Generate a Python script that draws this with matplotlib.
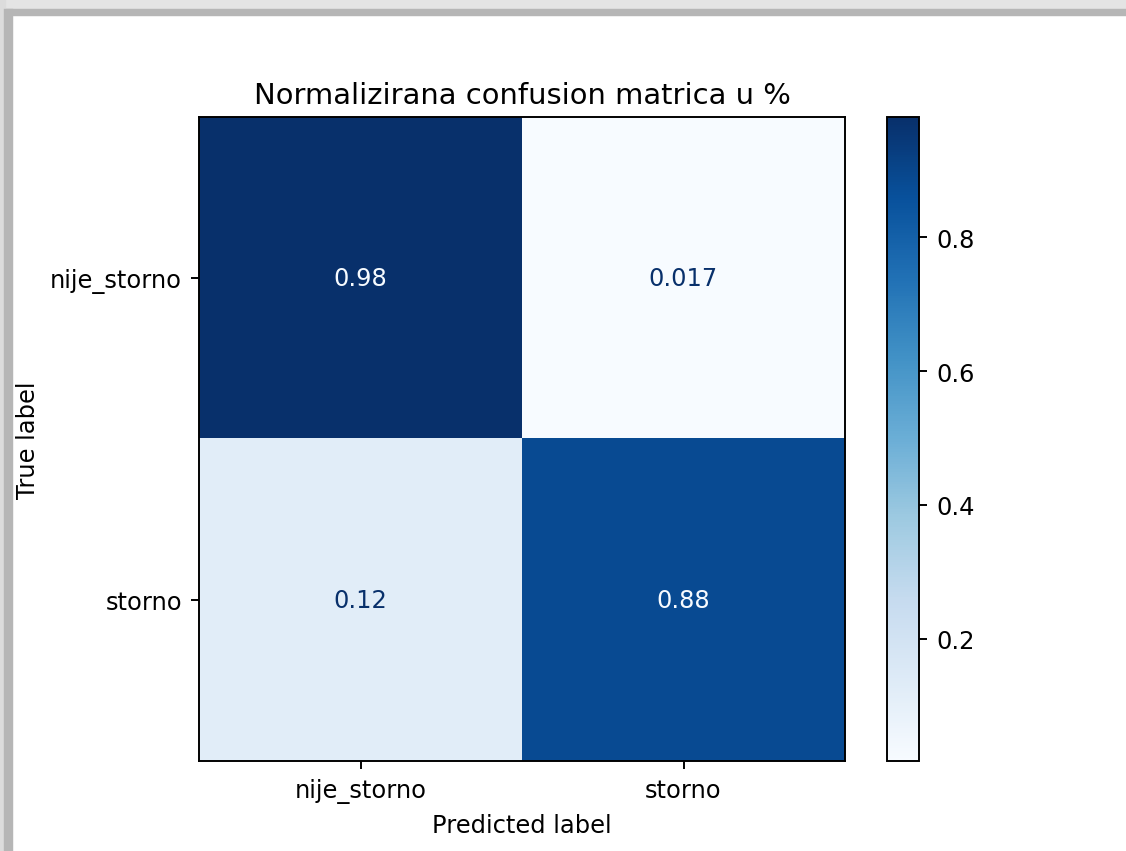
import matplotlib
matplotlib.use("Agg")
import matplotlib.pyplot as plt
import numpy as np
from matplotlib.patches import Rectangle

classes = ["nije_storno", "storno"]
row_nije = [0.98, 0.017]
row_storno = [0.12, 0.88]
cbar_ticks = [0.2, 0.4, 0.6, 0.8]

cm = np.array([row_nije, row_storno])

W, H = 1126, 852
dpi = 174
fig = plt.figure(figsize=(W / dpi, H / dpi), dpi=dpi)

# screenshot frame (grey band at top and left)
fig.patches.append(Rectangle((0, 1 - 11 / H), 1, 11 / H, transform=fig.transFigure,
                             color="#e4e4e4", zorder=0))
fig.patches.append(Rectangle((0, 1 - 16 / H), 1, 5 / H, transform=fig.transFigure,
                             color="#b6b6b6", zorder=0))
fig.patches.append(Rectangle((0, 0), 5 / W, 1, transform=fig.transFigure,
                             color="#dcdcdc", zorder=0))
fig.patches.append(Rectangle((5 / W, 0), 7 / W, 1 - 11 / H, transform=fig.transFigure,
                             color="#b6b6b6", zorder=0))

ax = fig.add_axes([199 / W, 1 - 762 / H, 646 / W, 644 / H])
cax = fig.add_axes([887 / W, 1 - 762 / H, 32 / W, 644 / H])

cmap = plt.get_cmap("Blues")
im = ax.imshow(cm, cmap=cmap, interpolation="nearest", aspect="auto")
cb = fig.colorbar(im, cax=cax)
cb.set_ticks(cbar_ticks)

thresh = (cm.max() + cm.min()) / 2.0
for i in range(cm.shape[0]):
    for j in range(cm.shape[1]):
        color = cmap(1.0) if cm[i, j] < thresh else cmap(0.0)
        ax.text(j, i, format(cm[i, j], ".2g"), ha="center", va="center", color=color)

ax.set_xticks(range(len(classes)))
ax.set_xticklabels(classes)
ax.set_yticks(range(len(classes)))
ax.set_yticklabels(classes)
ax.set_xlabel("Predicted label")
ax.set_ylabel("True label")
ax.set_title("Normalizirana confusion matrica u %")

fig.savefig("out.png", dpi=dpi)
